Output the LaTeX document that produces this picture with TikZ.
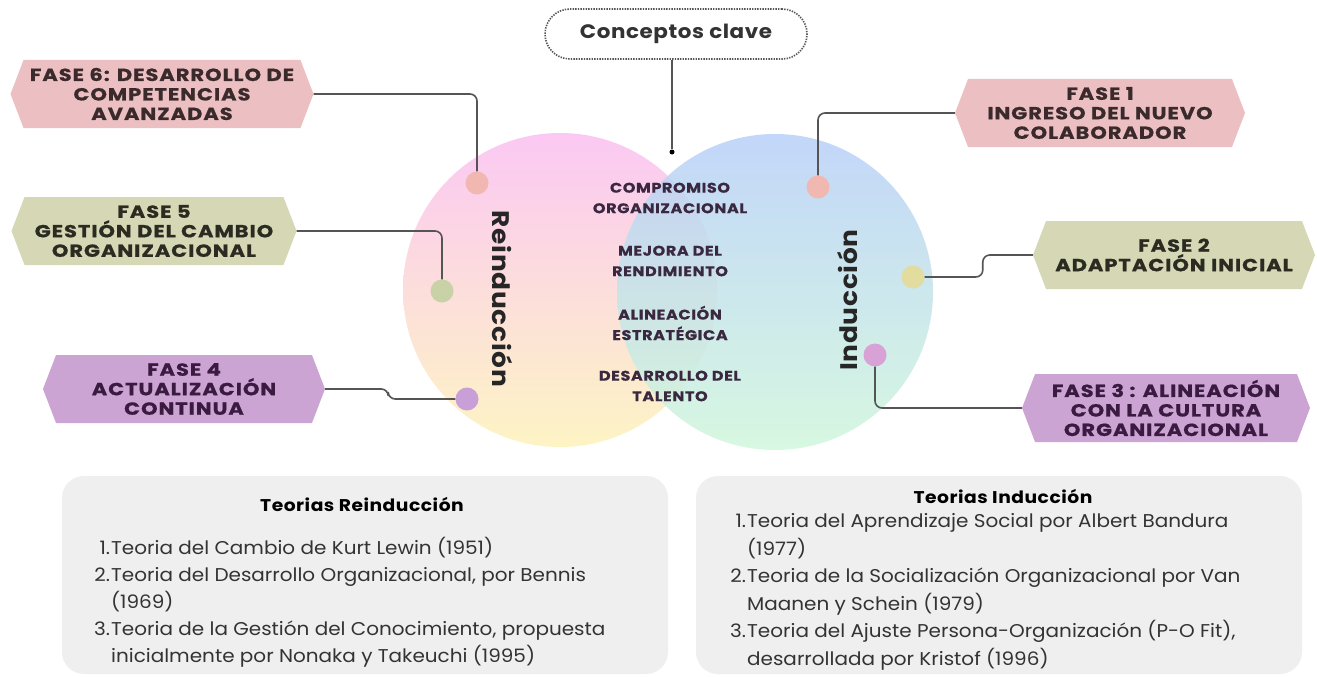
\documentclass[tikz,border=0pt]{standalone}
\usepackage{fontspec}
\setmainfont{Poppins}
\newfontfamily\faseFont[FakeStretch=1.2,LetterSpace=5.5,FakeBold=0.8]{Poppins}
\newfontfamily\keyFont[FakeStretch=1.15,LetterSpace=4,FakeBold=0.5]{Poppins}
\newfontfamily\headFont[FakeStretch=1.1,LetterSpace=3]{Poppins}
\newfontfamily\bodyFont[FakeStretch=1.08]{Poppins}
\usetikzlibrary{shapes.symbols}

\definecolor{pinkbox}{HTML}{ECC0C3}
\definecolor{olivebox}{HTML}{D6D7B5}
\definecolor{purplebox}{HTML}{CBA4D3}
\definecolor{pinktxt}{HTML}{3B2A2C}
\definecolor{olivetxt}{HTML}{2B2B22}
\definecolor{purpletxt}{HTML}{3A1A40}
\definecolor{linegray}{HTML}{555555}
\definecolor{centertxt}{HTML}{3A2840}
\definecolor{cardgray}{HTML}{EFEFEF}
\definecolor{cardtxt}{HTML}{333333}
\definecolor{lefttop}{HTML}{FBC8F3}
\definecolor{leftmid}{HTML}{FDE0E2}
\definecolor{leftbot}{HTML}{FDF4C4}
\definecolor{righttop}{HTML}{B8D0F8}
\definecolor{rightmid}{HTML}{C8E4F0}
\definecolor{rightbot}{HTML}{D0F7DC}
\definecolor{dotsalmon}{HTML}{F0B8B0}
\definecolor{dotgreen}{HTML}{C8D2A6}
\definecolor{dotyellow}{HTML}{E2DC9F}
\definecolor{dotpurple}{HTML}{C89FD6}
\definecolor{dotorchid}{HTML}{D9A2D6}

\begin{document}
\begin{tikzpicture}[x=1pt,y=-1pt,
  fase/.style={shape=signal, signal to=west and east, signal pointer angle=138,
    minimum height=68pt, align=center, inner sep=0pt,
    font=\faseFont\bfseries\fontsize{17.5}{19.5}\selectfont},
  conn/.style={draw=linegray, line width=1.6pt, rounded corners=7pt},
  dot/.style={circle, minimum size=23pt, inner sep=0pt},
  ctext/.style={align=center, text=centertxt, font=\keyFont\bfseries\fontsize{14}{20.5}\selectfont},
  card/.style={rounded corners=22pt, fill=cardgray, minimum width=606pt, minimum height=198pt},
  cardtitle/.style={text=black, font=\headFont\bfseries\fontsize{17}{20}\selectfont},
  cardlist/.style={text=cardtxt, anchor=north west, inner sep=0pt, align=left}
]
\useasboundingbox (0,0) rectangle (1317,677);
\fill[white] (0,0) rectangle (1317,677);

% two overlapping circles
\shade[top color=lefttop, middle color=leftmid, bottom color=leftbot] (560,290) circle[radius=157];
\shade[top color=righttop, middle color=rightmid, bottom color=rightbot, fill opacity=0.85] (775,292) circle[radius=158];

% circle titles
\node[rotate=-90, font=\headFont\bfseries\fontsize{24}{24}\selectfont, text=black!85] (reind) at (502,299) {Reinducción};
\node[rotate=90, font=\headFont\bfseries\fontsize{24}{24}\selectfont, text=black!85] (ind) at (848,300) {Inducción};

% key concepts in the overlap
\node[ctext] (k1) at (670,198) {COMPROMISO\\ORGANIZACIONAL};
\node[ctext] (k2) at (670,261) {MEJORA DEL\\RENDIMIENTO};
\node[ctext] (k3) at (670,323) {ALINEACIÓN\\ESTRATÉGICA};
\node[ctext] (k4) at (670,386) {DESARROLLO DEL\\TALENTO};

% key concepts label
\node[draw=linegray, dash pattern=on 1.4pt off 1.2pt, line width=1.6pt, fill=white, rounded corners=25pt,
  minimum width=262pt, minimum height=50pt, font=\headFont\bfseries\fontsize{19.5}{22}\selectfont, text=black!80]
  (cc) at (676,34) {Conceptos clave};
\node[circle, fill=black, minimum size=5pt, inner sep=0pt] (ccdot) at (672,152) {};
\draw[linegray, line width=1.6pt] (cc.south -| ccdot) -- (ccdot);

% phase boxes
\node[fase, fill=pinkbox, text=pinktxt, minimum width=303pt] (f6) at (162,94) {FASE 6: DESARROLLO DE\\COMPETENCIAS\\AVANZADAS};
\node[fase, fill=olivebox, text=olivetxt, minimum width=285pt] (f5) at (154,231) {FASE 5\\GESTIÓN DEL CAMBIO\\ORGANIZACIONAL};
\node[fase, fill=purplebox, text=purpletxt, minimum width=282pt] (f4) at (184,389) {FASE 4\\ACTUALIZACIÓN\\CONTINUA};
\node[fase, fill=pinkbox, text=pinktxt, minimum width=290pt] (f1) at (1100,113) {FASE 1\\INGRESO DEL NUEVO\\COLABORADOR};
\node[fase, fill=olivebox, text=olivetxt, minimum width=282pt] (f2) at (1174,255) {FASE 2\\ADAPTACIÓN INICIAL};
\node[fase, fill=purplebox, text=purpletxt, minimum width=288pt] (f3) at (1166,408) {FASE 3 : ALINEACIÓN\\CON LA CULTURA\\ORGANIZACIONAL};

% connection dots on the circles
\node[dot, fill=dotsalmon] (d6) at (477,183) {};
\node[dot, fill=dotgreen] (d5) at (442,291) {};
\node[dot, fill=dotpurple] (d4) at (467,399) {};
\node[dot, fill=dotsalmon] (d1) at (818,187) {};
\node[dot, fill=dotyellow] (d2) at (913,277) {};
\node[dot, fill=dotorchid] (d3) at (875,355) {};

% connectors from phases to dots
\draw[conn] (f6.east) -| (d6.north);
\draw[conn] (f5.east) -| (d5.north);
\draw[conn] (f4.east) -- ++(63,0) |- (d4.west);
\draw[conn] (f1.west) -| (d1.north);
\draw[conn] (f2.west) -- ++(-50,0) |- (d2.east);
\draw[conn] (f3.west) -| (d3.south);

% theory cards
\node[card] (cardL) at (365,575) {};
\node[card] (cardR) at (999,575) {};
\node[cardtitle] (tL) at (362,504) {Teorias Reinducción};
\node[cardtitle] (tR) at (1003,496) {Teorias Inducción};
\node[cardlist] (lL) at (94,535) {\bodyFont\fontsize{18.5}{27}\selectfont
  \begin{tabular}{@{}r@{\hspace{1pt}}l@{}}
  1.&Teoria del Cambio de Kurt Lewin (1951)\\
  2.&Teoria del Desarrollo Organizacional, por Bennis\\
  &(1969)\\
  3.&Teoria de la Gestión del Conocimiento, propuesta\\
  &inicialmente por Nonaka y Takeuchi (1995)
  \end{tabular}};
\node[cardlist] (lR) at (730,508) {\bodyFont\fontsize{18.5}{27.6}\selectfont
  \begin{tabular}{@{}r@{\hspace{1pt}}l@{}}
  1.&Teoria del Aprendizaje Social por Albert Bandura\\
  &(1977)\\
  2.&Teoria de la Socialización Organizacional por Van\\
  &Maanen y Schein (1979)\\
  3.&Teoria del Ajuste Persona-Organización (P-O Fit),\\
  &desarrollada por Kristof (1996)
  \end{tabular}};
\end{tikzpicture}
\end{document}
